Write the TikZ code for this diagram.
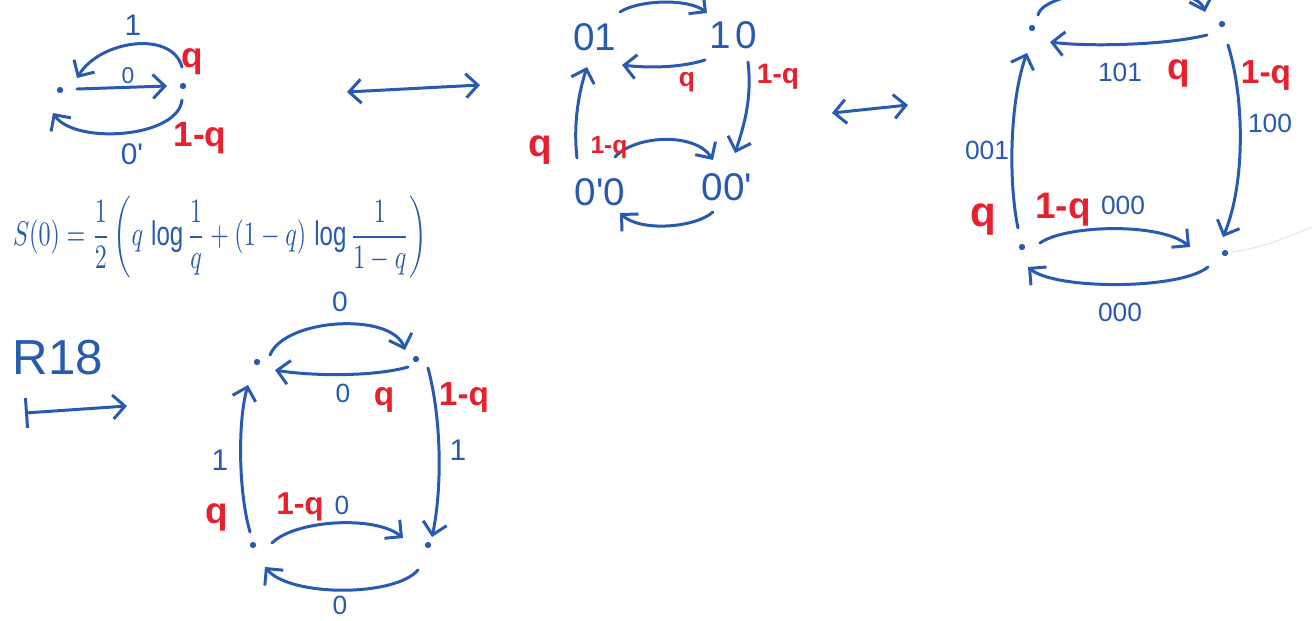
\documentclass[tikz,border=0pt]{standalone}
\usepackage{amsmath}
\usepackage{fontspec}
\setmainfont{Liberation Sans}
\usepackage{graphicx}
\usetikzlibrary{arrows.meta}
\definecolor{ink}{RGB}{40,90,175}
\definecolor{pen}{RGB}{232,32,46}
\newcommand{\penfs}[1]{\fontsize{#1}{#1}\selectfont}

\begin{document}
\begin{tikzpicture}[x=0.02cm,y=-0.02cm,
  >={Straight Barb[length=2.4mm,width=4.8mm]},
  edge/.style={draw=ink, line width=1.7pt, line cap=round, ->},
  twoway/.style={draw=ink, line width=1.7pt, line cap=round, <->},
  dotv/.style={circle, fill=ink, inner sep=0pt, minimum size=3.6pt},
  state/.style={text=ink, font=\penfs{22}, inner sep=1pt},
  lbl/.style={text=ink, font=\penfs{#1}, inner sep=0pt},
  rlbl/.style={text=pen, font=\bfseries\penfs{#1}, inner sep=1pt},
]
\clip (0,0) rectangle (1313,620);
\fill[white] (0,0) rectangle (1313,620);

% ---------- two-state chain ----------
\node[dotv] (A) at (60,90) {};
\node[dotv] (B) at (183,86) {};
\draw[edge] ([shift={(-1,-19)}]B.center) .. controls +(-10,-37) and +(23,-38) .. ([shift={(17,-12)}]A.center);
\draw[edge] ([shift={(17,-1)}]A.center) -- ([shift={(-16,0)}]B.center);
\draw[edge] ([shift={(-1,14)}]B.center) .. controls +(-4,38) and +(22,32) .. ([shift={(-7,23)}]A.center);
\node[lbl=17] at (133,25) {1};
\node[lbl=13] at (128,76) {0};
\node[lbl=17] at (132,154) {0\textquotesingle};
\node[rlbl=20] at (192,62) {q};
\node[rlbl=20] at (200,138) {1-q};

\coordinate (d1a) at (347,92);
\coordinate (d1b) at (480,85);
\draw[twoway] (d1a) -- (d1b);

% ---------- pair states ----------
\node[state] (n01) at (595,37) {01};
\node[state] (n10) at (733,35) {1\hspace{0.12em}0};
\node[state] (n0p0) at (600,192) {0\textquotesingle0};
\node[state] (n00p) at (727,187) {00\textquotesingle};
\draw[edge] ([shift={(25,-25)}]n01.center) .. controls +(18,-12) and +(-19,-15) .. ([shift={(-26,-22)}]n10.center);
\draw[edge] ([shift={(-28,25)}]n10.center) .. controls +(-25,8) and +(25,3) .. ([shift={(27,28)}]n01.center);
\draw[edge] ([shift={(15,27)}]n10.center) .. controls +(4,35) and +(10,-30) .. ([shift={(8,-34)}]n00p.center);
\draw[edge] ([shift={(-23,-34)}]n0p0.center) .. controls +(-4,-35) and +(-8,25) .. ([shift={(-8,30)}]n01.center);
\draw[edge] ([shift={(15,-35)}]n0p0.center) .. controls +(20,-22) and +(-18,-28) .. ([shift={(-14,-27)}]n00p.center);
\draw[edge] ([shift={(-14,25)}]n00p.center) .. controls +(-18,16) and +(20,19) .. ([shift={(20,21)}]n0p0.center);
\node[rlbl=15] at (687,82) {q};
\node[rlbl=16] at (778,77) {1-q};
\node[rlbl=22] at (540,150) {q};
\node[rlbl=14] at (609,148) {1-q};

\coordinate (d2a) at (832,113);
\coordinate (d2b) at (908,105);
\draw[twoway] (d2a) -- (d2b);

% ---------- triple-labelled chain ----------
\node[dotv] (TL3) at (1032,28) {};
\node[dotv] (TR3) at (1222,24) {};
\node[dotv] (BL3) at (1022,247) {};
\node[dotv] (BR3) at (1225,253) {};
\draw[edge] ([shift={(6,-13)}]TL3.center) .. controls +(7,-30) and +(-10,-32) .. ([shift={(-17,-12)}]TR3.center);
\draw[edge] ([shift={(-15,11)}]TR3.center) .. controls +(-40,10) and +(40,5) .. ([shift={(18,14)}]TL3.center);
\draw[edge] ([shift={(6,21)}]TR3.center) .. controls +(17,55) and +(22,-52) .. ([shift={(-2,-16)}]BR3.center);
\draw[edge] ([shift={(-4,-19)}]BL3.center) .. controls +(-10,-48) and +(-17,47) .. ([shift={(-5,25)}]TL3.center);
\draw[edge] ([shift={(18,-4)}]BL3.center) .. controls +(25,-18) and +(-30,-25) .. ([shift={(-35,-6)}]BR3.center);
\draw[edge] ([shift={(-17,14)}]BR3.center) .. controls +(-28,23) and +(27,23) .. ([shift={(6,20)}]BL3.center);
\node[lbl=15] at (1120,72) {101};
\node[rlbl=21] at (1179,73) {q};
\node[rlbl=19] at (1266,75) {1-q};
\node[lbl=15] at (1270,123) {100};
\node[lbl=15] at (987,150) {001};
\node[rlbl=24] at (983,220) {q};
\node[rlbl=21] at (1063,210) {1-q};
\node[lbl=15] at (1123,205) {000};
\node[lbl=15] at (1120,312) {000};
\coordinate (fade) at (1312,227);
\draw[black!10, line width=0.6pt] ([shift={(7,-1)}]BR3.center) .. controls +(30,-4) and +(-30,12) .. (fade);

% ---------- entropy ----------
\node[text=ink, inner sep=0pt] (ent) at (220,237)
  {\resizebox*{8.28cm}{1.64cm}{$\displaystyle S(0)=\frac{1}{2}\left(q\,\log\frac{1}{q}+(1-q)\,\log\frac{1}{1-q}\right)$}};

% ---------- R18 map ----------
\node[text=ink, font=\penfs{28}, inner sep=0pt] (rule) at (58,358) {R18};
\coordinate (ma) at (25,413);
\coordinate (mb) at (127,406);
\draw[draw=ink, line width=1.7pt, line cap=round, {Bar[width=6mm]}->] (ma) -- (mb);

\node[dotv] (TL4) at (257,362) {};
\node[dotv] (TR4) at (416,359) {};
\node[dotv] (BL4) at (253,545) {};
\node[dotv] (BR4) at (428,545) {};
\draw[edge] ([shift={(13,-7)}]TL4.center) .. controls +(15,-37) and +(-13,-38) .. ([shift={(-11,-9)}]TR4.center);
\draw[edge] ([shift={(-8,8)}]TR4.center) .. controls +(-35,10) and +(35,6) .. ([shift={(18,8)}]TL4.center);
\draw[edge] ([shift={(12,9)}]TR4.center) .. controls +(14,52) and +(10,-47) .. ([shift={(4,-8)}]BR4.center);
\draw[edge] ([shift={(-3,-13)}]BL4.center) .. controls +(-12,-42) and +(-10,35) .. ([shift={(-9,23)}]TL4.center);
\draw[edge] ([shift={(19,-2)}]BL4.center) .. controls +(23,-23) and +(-28,-23) .. ([shift={(-25,-7)}]BR4.center);
\draw[edge] ([shift={(-10,25)}]BR4.center) .. controls +(-23,27) and +(25,30) .. ([shift={(12,22)}]BL4.center);
\node[lbl=16] at (340,302) {0};
\node[lbl=15] at (343,393) {0};
\node[rlbl=19] at (384,400) {q};
\node[rlbl=19] at (464,397) {1-q};
\node[lbl=17] at (458,450) {1};
\node[lbl=17] at (220,460) {1};
\node[rlbl=21] at (217,517) {q};
\node[rlbl=18] at (300,507) {1-q};
\node[lbl=15] at (342,505) {0};
\node[lbl=15] at (340,605) {0};
\end{tikzpicture}
\end{document}
